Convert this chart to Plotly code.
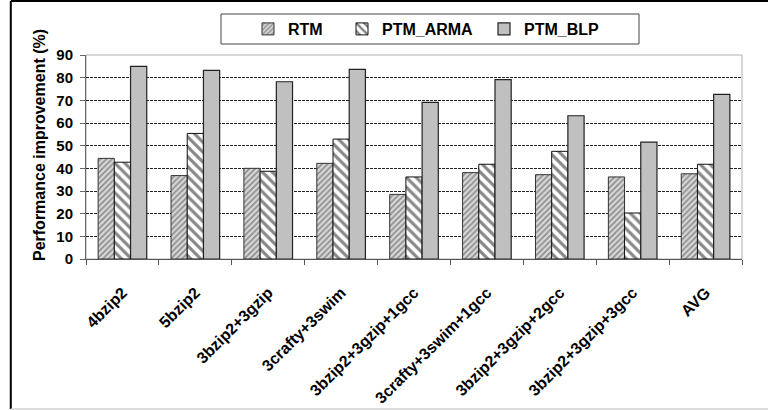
import plotly.graph_objects as go

# Workload mixes and the improvement of each technique (%)
categories = ["4bzip2", "5bzip2", "3bzip2+3gzip", "3crafty+3swim",
              "3bzip2+3gzip+1gcc", "3crafty+3swim+1gcc",
              "3bzip2+3gzip+2gcc", "3bzip2+3gzip+3gcc", "AVG"]
rtm = [44.4, 36.8, 40.0, 42.2, 28.5, 38.1, 37.2, 36.2, 37.6]
ptm_arma = [42.7, 55.4, 38.7, 52.9, 36.2, 41.8, 47.5, 20.3, 41.8]
ptm_blp = [85.0, 83.2, 78.2, 83.7, 69.1, 79.1, 63.2, 51.6, 72.6]
y_ticks = [0, 10, 20, 30, 40, 50, 60, 70, 80, 90]

FONT = "Liberation Sans"
W, H = 768, 410
L, R, T, B = 86, 26, 55, 151
PW, PH = W - L - R, H - T - B


def px_x(p):
    return (p - L) / PW


def px_y(p):
    return (H - B - p) / PH


fig = go.Figure()
fig.add_trace(go.Bar(
    x=categories, y=rtm, name="RTM", legend="legend", showlegend=True,
    marker=dict(color="white", line=dict(color="#333333", width=1),
                pattern=dict(shape="/", size=4, solidity=0.45,
                             fgcolor="#444444", bgcolor="#d8d8d8")),
))
fig.add_trace(go.Bar(
    x=categories, y=ptm_arma, name="PTM_ARMA", legend="legend2", showlegend=True,
    marker=dict(color="white", line=dict(color="#111111", width=1),
                pattern=dict(shape="\\", size=7, solidity=0.45,
                             fgcolor="#111111", bgcolor="white")),
))
fig.add_trace(go.Bar(
    x=categories, y=ptm_blp, name="PTM_BLP", legend="legend3", showlegend=True,
    marker=dict(color="#c0c0c0", line=dict(color="#222222", width=1.2)),
))

legend_common = dict(
    orientation="h", xanchor="left", yanchor="middle",
    bgcolor="rgba(0,0,0,0)", borderwidth=0,
    font=dict(family=FONT, size=16, weight="bold", color="black"),
)
ly = px_y(29)
fig.update_layout(
    showlegend=True,
    legend=dict(x=px_x(248), y=ly, **legend_common),
    legend2=dict(x=px_x(342), y=ly, **legend_common),
    legend3=dict(x=px_x(484), y=ly, **legend_common),
)

shapes = [
    # plot area frame
    dict(type="rect", xref="paper", yref="paper", x0=0, x1=1, y0=0, y1=1,
         line=dict(color="#b0b0b0", width=1), layer="below"),
    # legend box
    dict(type="rect", xref="paper", yref="paper",
         x0=px_x(221), x1=px_x(639), y0=px_y(44), y1=px_y(14),
         line=dict(color="#444444", width=1)),
    # outer chart border
    dict(type="line", xref="paper", yref="paper",
         x0=px_x(10.8), x1=px_x(768), y0=px_y(1), y1=px_y(1),
         line=dict(color="black", width=2)),
    dict(type="line", xref="paper", yref="paper",
         x0=px_x(10.8), x1=px_x(10.8), y0=px_y(1), y1=px_y(409),
         line=dict(color="black", width=2)),
    dict(type="line", xref="paper", yref="paper",
         x0=px_x(10.8), x1=px_x(768), y0=px_y(409), y1=px_y(409),
         line=dict(color="#d0d0d0", width=1.5)),
]

fig.update_layout(
    width=W, height=H,
    margin=dict(l=L, r=R, t=T, b=B, pad=0, autoexpand=False),
    paper_bgcolor="white", plot_bgcolor="white",
    barmode="group", bargap=0.333, bargroupgap=0,
    shapes=shapes,
    annotations=[dict(
        text="Performance improvement (%)", textangle=-90,
        xref="paper", yref="paper", x=px_x(39), y=px_y(145),
        xanchor="center", yanchor="middle", showarrow=False,
        font=dict(family=FONT, size=16, weight="bold", color="black"),
    )],
)

fig.update_xaxes(
    type="category", tickson="boundaries", tickangle=-45, automargin=False,
    ticks="outside", ticklen=5, tickcolor="#555555",
    showline=True, linecolor="#555555", linewidth=1,
    showgrid=False, ticklabelstandoff=17,
    tickfont=dict(family=FONT, size=16, weight="bold", color="black"),
)
fig.update_yaxes(
    range=[0, 90], tickvals=y_ticks, automargin=False,
    ticks="outside", ticklen=5, tickcolor="#666666",
    showline=True, linecolor="#666666", linewidth=1,
    showgrid=True, gridcolor="#222222", gridwidth=1, griddash="3px,1px",
    zeroline=False, ticklabelstandoff=4,
    tickfont=dict(family=FONT, size=15, weight="bold", color="black"),
)

fig.write_html("out.html")
